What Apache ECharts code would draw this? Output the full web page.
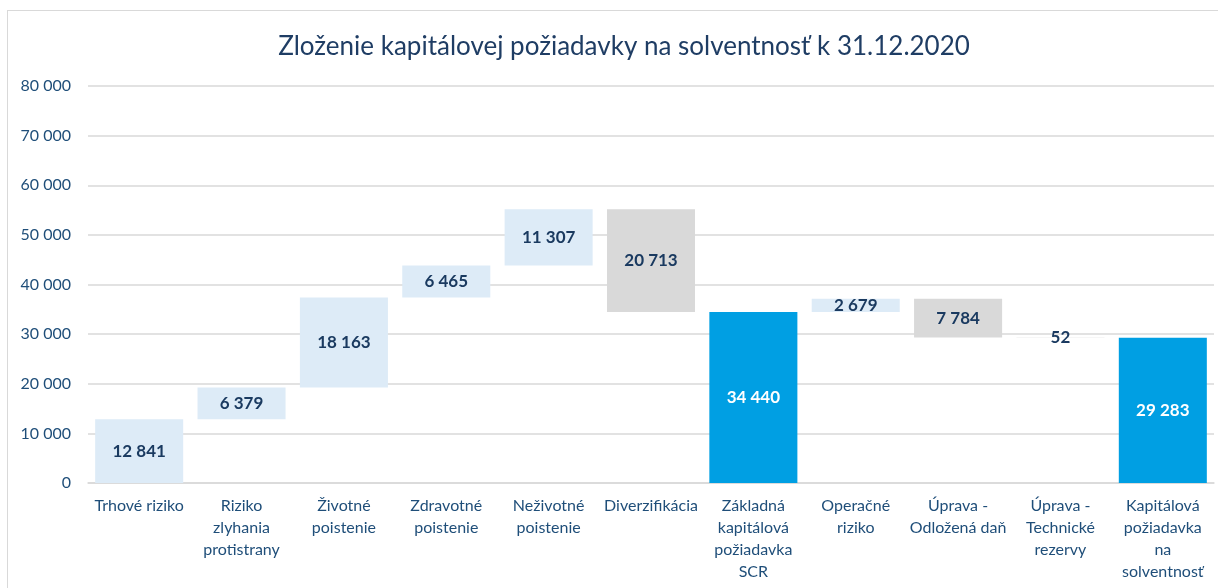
<!DOCTYPE html>
<html>
<head>
<meta charset="utf-8">
<script src="https://cdn.jsdelivr.net/npm/echarts@6/dist/echarts.min.js"></script>
<style>
  html, body { margin: 0; padding: 0; background: #fff; }
  #frame { position: absolute; left: 7px; top: 10px; width: 1220px; height: 590px; border: 1.5px solid #d9d9d9; }
  #chart { position: absolute; left: 0; top: 0; width: 1218px; height: 588px; }
</style>
</head>
<body>
<div id="frame"></div>
<div id="chart"></div>
<script>
// kategórie a hodnoty (tis. EUR)
const categories = [
  "Trhové riziko",
  "Riziko\nzlyhania\nprotistrany",
  "Životné\npoistenie",
  "Zdravotné\npoistenie",
  "Neživotné\npoistenie",
  "Diverzifikácia",
  "Základná\nkapitálová\npožiadavka\nSCR",
  "Operačné\nriziko",
  "Úprava -\nOdložená daň",
  "Úprava -\nTechnické\nrezervy",
  "Kapitálová\npožiadavka\nna\nsolventnosť"
];
const values = [12841, 6379, 18163, 6465, 11307, 20713, 34440, 2679, 7784, 52, 29283];
const kinds = ["up", "up", "up", "up", "up", "down", "total", "up", "down", "down", "total"];

const colors = { up: "#ddebf7", down: "#d9d9d9", total: "#009fe3" };

const fmt = v => String(v).replace(/\B(?=(\d{3})+(?!\d))/g, " ");

// podklad pre vodopád
const base = [];
let running = 0;
values.forEach((v, i) => {
  if (kinds[i] === "total") { base.push(0); running = v; }
  else if (kinds[i] === "up") { base.push(running); running += v; }
  else { running -= v; base.push(running); }
});

const chart = echarts.init(document.getElementById("chart"));
chart.setOption({
  animation: false,
  textStyle: { fontFamily: "Lato" },
  title: {
    text: "Zloženie kapitálovej požiadavky na solventnosť k 31.12.2020",
    left: 619,
    textAlign: "center",
    top: 29,
    textStyle: { fontSize: 26, fontWeight: "normal", color: "#1f3d64", fontFamily: "Lato" }
  },
  grid: { left: 88, right: 4, top: 86, bottom: 105 },
  xAxis: {
    type: "category",
    data: categories,
    axisLine: { lineStyle: { color: "#d9d9d9", width: 1.5 } },
    axisTick: { show: false },
    axisLabel: { color: "#1f4e79", fontSize: 16, lineHeight: 22, margin: 12, interval: 0 }
  },
  yAxis: {
    type: "value",
    min: 0,
    max: 80000,
    interval: 10000,
    axisLabel: { color: "#1f4e79", fontSize: 16, margin: 17, formatter: v => fmt(v) },
    splitLine: { lineStyle: { color: "#d9d9d9", width: 1.5 } },
    axisLine: { show: false },
    axisTick: { show: false }
  },
  series: [
    {
      type: "bar",
      stack: "w",
      data: base,
      itemStyle: { color: "transparent" },
      barCategoryGap: "14%",
      silent: true
    },
    {
      type: "bar",
      stack: "w",
      data: values.map((v, i) => ({
        value: v,
        itemStyle: { color: colors[kinds[i]] },
        label: { color: kinds[i] === "total" ? "#ffffff" : "#1a3a60" }
      })),
      label: {
        show: true,
        position: "inside",
        fontSize: 17,
        fontWeight: "bold",
        formatter: p => fmt(p.value)
      }
    }
  ]
});
</script>
</body>
</html>
